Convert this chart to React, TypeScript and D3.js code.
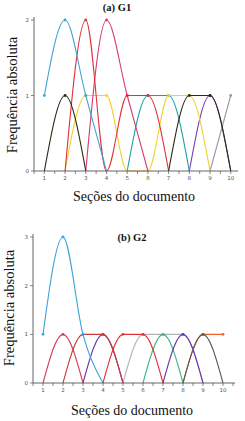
import * as d3 from "d3";

// sections on the x axis
const sections = [1, 2, 3, 4, 5, 6, 7, 8, 9, 10];

// (a) G1
const g1Ticks = [0, 1, 2];
const g1Blue = [1, 2, 1, 0, 0, 0, 0, 0, 0, 0];
const g1Dark = [0, 1, 0, 0, 0, 0, 0, 1, 1, 0];
const g1Yellow = [0, 0, 1, 1, 0, 0, 1, 1, 0, 0];
const g1Red = [0, 0, 2, 0, 1, 1, 0, 0, 0, 0];
const g1Pink = [0, 0, 0, 2, 1, 0, 0, 0, 0, 0];
const g1Teal = [0, 0, 0, 0, 0, 1, 1, 0, 0, 0];
const g1Purple = [0, 0, 0, 0, 0, 0, 0, 0, 1, 0];
const g1Gray = [0, 0, 0, 0, 0, 0, 0, 0, 0, 1];

// (b) G2
const g2Ticks = [0, 1, 2, 3];
const g2Blue = [1, 3, 1, 0, 0, 0, 0, 0, 0, 0];
const g2Crimson = [0, 1, 0, 0, 0, 0, 0, 0, 0, 0];
const g2Red = [0, 0, 1, 1, 0, 0, 0, 0, 0, 0];
const g2Purple = [0, 0, 0, 1, 0, 0, 0, 1, 0, 0];
const g2Scarlet = [0, 0, 0, 0, 1, 1, 0, 0, 0, 0];
const g2Silver = [0, 0, 0, 0, 0, 1, 1, 1, 0, 0];
const g2Green = [0, 0, 0, 0, 0, 0, 1, 0, 0, 0];
const g2Orange = [0, 0, 0, 0, 0, 0, 0, 0, 1, 1];
const g2Charcoal = [0, 0, 0, 0, 0, 0, 0, 0, 1, 0];

type Series = { values: number[]; color: string };

const g1Series: Series[] = [
  { values: g1Gray, color: "#8e9caa" },
  { values: g1Purple, color: "#7a3db5" },
  { values: g1Teal, color: "#1aa1a8" },
  { values: g1Yellow, color: "#f2d22a" },
  { values: g1Pink, color: "#d63c6c" },
  { values: g1Red, color: "#e2303a" },
  { values: g1Blue, color: "#3ea3da" },
  { values: g1Dark, color: "#2b2a14" },
];

const g2Series: Series[] = [
  { values: g2Orange, color: "#f0602e" },
  { values: g2Charcoal, color: "#5a5a5a" },
  { values: g2Silver, color: "#b4b4b4" },
  { values: g2Green, color: "#3cb486" },
  { values: g2Purple, color: "#6a34b0" },
  { values: g2Scarlet, color: "#e2303a" },
  { values: g2Red, color: "#c83a3a" },
  { values: g2Crimson, color: "#d43c5c" },
  { values: g2Blue, color: "#3ea3da" },
];

const serif = "'Liberation Serif', 'Times New Roman', serif";
const sans = "'DejaVu Sans', sans-serif";

interface PanelProps {
  title: string;
  series: Series[];
  yTicks: number[];
  left: number;
  right: number;
  top: number;
  bottom: number;
  xMax: number;
  titleX: number;
  titleY: number;
  yLabelX: number;
  yLabelY: number;
  xLabelY: number;
}

function Panel(p: PanelProps) {
  const yMax = d3.max(p.yTicks) as number;
  const x = d3.scaleLinear().domain([0.5, p.xMax]).range([p.left, p.right]);
  const y = d3.scaleLinear().domain([0, yMax]).range([p.bottom, p.top]);

  // only draw the stretches that leave the baseline
  const line = d3
    .line<number>()
    .defined((v, i, arr) => v > 0 || (arr[i - 1] ?? 0) > 0 || (arr[i + 1] ?? 0) > 0)
    .x((_, i) => x(sections[i]))
    .y((v) => y(v))
    .curve(d3.curveMonotoneX);

  const halfTicks = d3.range(0.5, p.xMax, 0.5);
  const axisColor = "#555";

  return (
    <g>
      {p.series.map((s, k) => (
        <g key={k}>
          <path d={line(s.values) ?? ""} fill="none" stroke={s.color} strokeWidth={1.1} />
          {s.values.map((v, i) =>
            v > 0 ? <circle key={i} cx={x(sections[i])} cy={y(v)} r={1.4} fill={s.color} /> : null
          )}
        </g>
      ))}

      {/* x axis */}
      <line x1={p.left} x2={p.right} y1={p.bottom} y2={p.bottom} stroke={axisColor} strokeWidth={0.9} />
      {halfTicks.map((t) => (
        <line key={t} x1={x(t)} x2={x(t)} y1={p.bottom} y2={p.bottom + 3} stroke={axisColor} strokeWidth={0.7} />
      ))}
      {sections.map((s) => (
        <text key={s} x={x(s)} y={p.bottom + 9} textAnchor="middle" fontFamily={sans} fontSize={5.5} fill="#555">
          {s}
        </text>
      ))}

      {/* y axis */}
      <line x1={p.left} x2={p.left} y1={p.bottom} y2={p.top - 3} stroke={axisColor} strokeWidth={0.9} />
      {p.yTicks.map((t) => (
        <g key={t}>
          <line x1={p.left - 3} x2={p.left} y1={y(t)} y2={y(t)} stroke={axisColor} strokeWidth={0.7} />
          <text x={p.left - 5} y={y(t) + 2} textAnchor="end" fontFamily={sans} fontSize={5.5} fill="#555">
            {t}
          </text>
        </g>
      ))}

      {/* labels */}
      <text x={p.titleX} y={p.titleY} textAnchor="middle" fontFamily={serif} fontWeight="bold" fontSize={10.5} fill="#111">
        {p.title}
      </text>
      <text
        transform={`translate(${p.yLabelX},${p.yLabelY}) rotate(-90)`}
        textAnchor="middle"
        fontFamily={serif}
        fontSize={14.5}
        fill="#111"
      >
        Frequência absoluta
      </text>
      <text x={(p.left + p.right) / 2 - 2} y={p.xLabelY} textAnchor="middle" fontFamily={serif} fontSize={14} fill="#111">
        Seções do documento
      </text>
    </g>
  );
}

export default function App() {
  return (
    <svg width={245} height={421} style={{ position: "absolute", left: 0, top: 0, background: "#fff" }}>
      <Panel
        title="(a) G1"
        series={g1Series}
        yTicks={g1Ticks}
        left={34}
        right={238}
        top={20}
        bottom={171}
        xMax={10.35}
        titleX={117}
        titleY={11}
        yLabelX={17}
        yLabelY={95}
        xLabelY={201}
      />
      <Panel
        title="(b) G2"
        series={g2Series}
        yTicks={g2Ticks}
        left={33}
        right={235}
        top={237}
        bottom={383}
        xMax={10.6}
        titleX={132}
        titleY={241}
        yLabelX={14}
        yLabelY={308}
        xLabelY={415}
      />
    </svg>
  );
}
